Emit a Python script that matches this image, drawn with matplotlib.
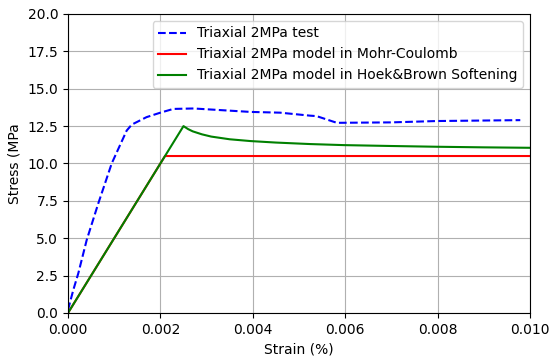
import matplotlib
matplotlib.use("Agg")
import matplotlib.pyplot as plt

# measured test curve (blue dashed)
test_strain = [0.0, 0.000115, 0.000223, 0.000405, 0.000656, 0.000946, 0.00127, 0.00138,
               0.0017, 0.0020, 0.00228, 0.00272, 0.00395, 0.00459, 0.00524, 0.00538,
               0.00582, 0.00700, 0.00798, 0.00979]
test_stress = [0.2, 1.54, 2.65, 4.88, 7.33, 10.0, 12.2, 12.6,
               13.1, 13.4, 13.65, 13.68, 13.45, 13.4, 13.2, 13.17,
               12.72, 12.75, 12.84, 12.9]

# Mohr-Coulomb model (red)
mc_strain = [0.0, 0.0021, 0.010]
mc_stress = [0.0, 10.5, 10.5]

# Hoek&Brown softening model (green)
hb_strain = [0.0, 0.0025, 0.0026, 0.0027, 0.0029, 0.0031, 0.0035, 0.00395, 0.0045,
             0.00524, 0.00596, 0.0070, 0.00798, 0.0090, 0.010]
hb_stress = [0.0, 12.5, 12.3, 12.15, 11.95, 11.8, 11.62, 11.5, 11.4,
             11.3, 11.23, 11.17, 11.12, 11.08, 11.05]

fig = plt.figure(figsize=(5.5, 3.56), dpi=100)
ax = fig.add_axes([0.1236, 0.1208, 0.84, 0.8399])

ax.plot(test_strain, test_stress, "b--", label="Triaxial 2MPa test")
ax.plot(mc_strain, mc_stress, "r-", label="Triaxial 2MPa model in Mohr-Coulomb")
ax.plot(hb_strain, hb_stress, "g-", label="Triaxial 2MPa model in Hoek&Brown Softening")

ax.set_xlim(0, 0.010)
ax.set_ylim(0, 20)
ax.set_xticks([0.000, 0.002, 0.004, 0.006, 0.008, 0.010])
ax.set_yticks([0.0, 2.5, 5.0, 7.5, 10.0, 12.5, 15.0, 17.5, 20.0])
ax.set_xticklabels(["0.000", "0.002", "0.004", "0.006", "0.008", "0.010"])
ax.set_yticklabels(["0.0", "2.5", "5.0", "7.5", "10.0", "12.5", "15.0", "17.5", "20.0"])
ax.grid(True, color="#b0b0b0")
ax.set_xlabel("Strain (%)")
ax.set_ylabel("Stress (MPa")
ax.legend(loc="upper right")

fig.savefig("out.png", dpi=100)
